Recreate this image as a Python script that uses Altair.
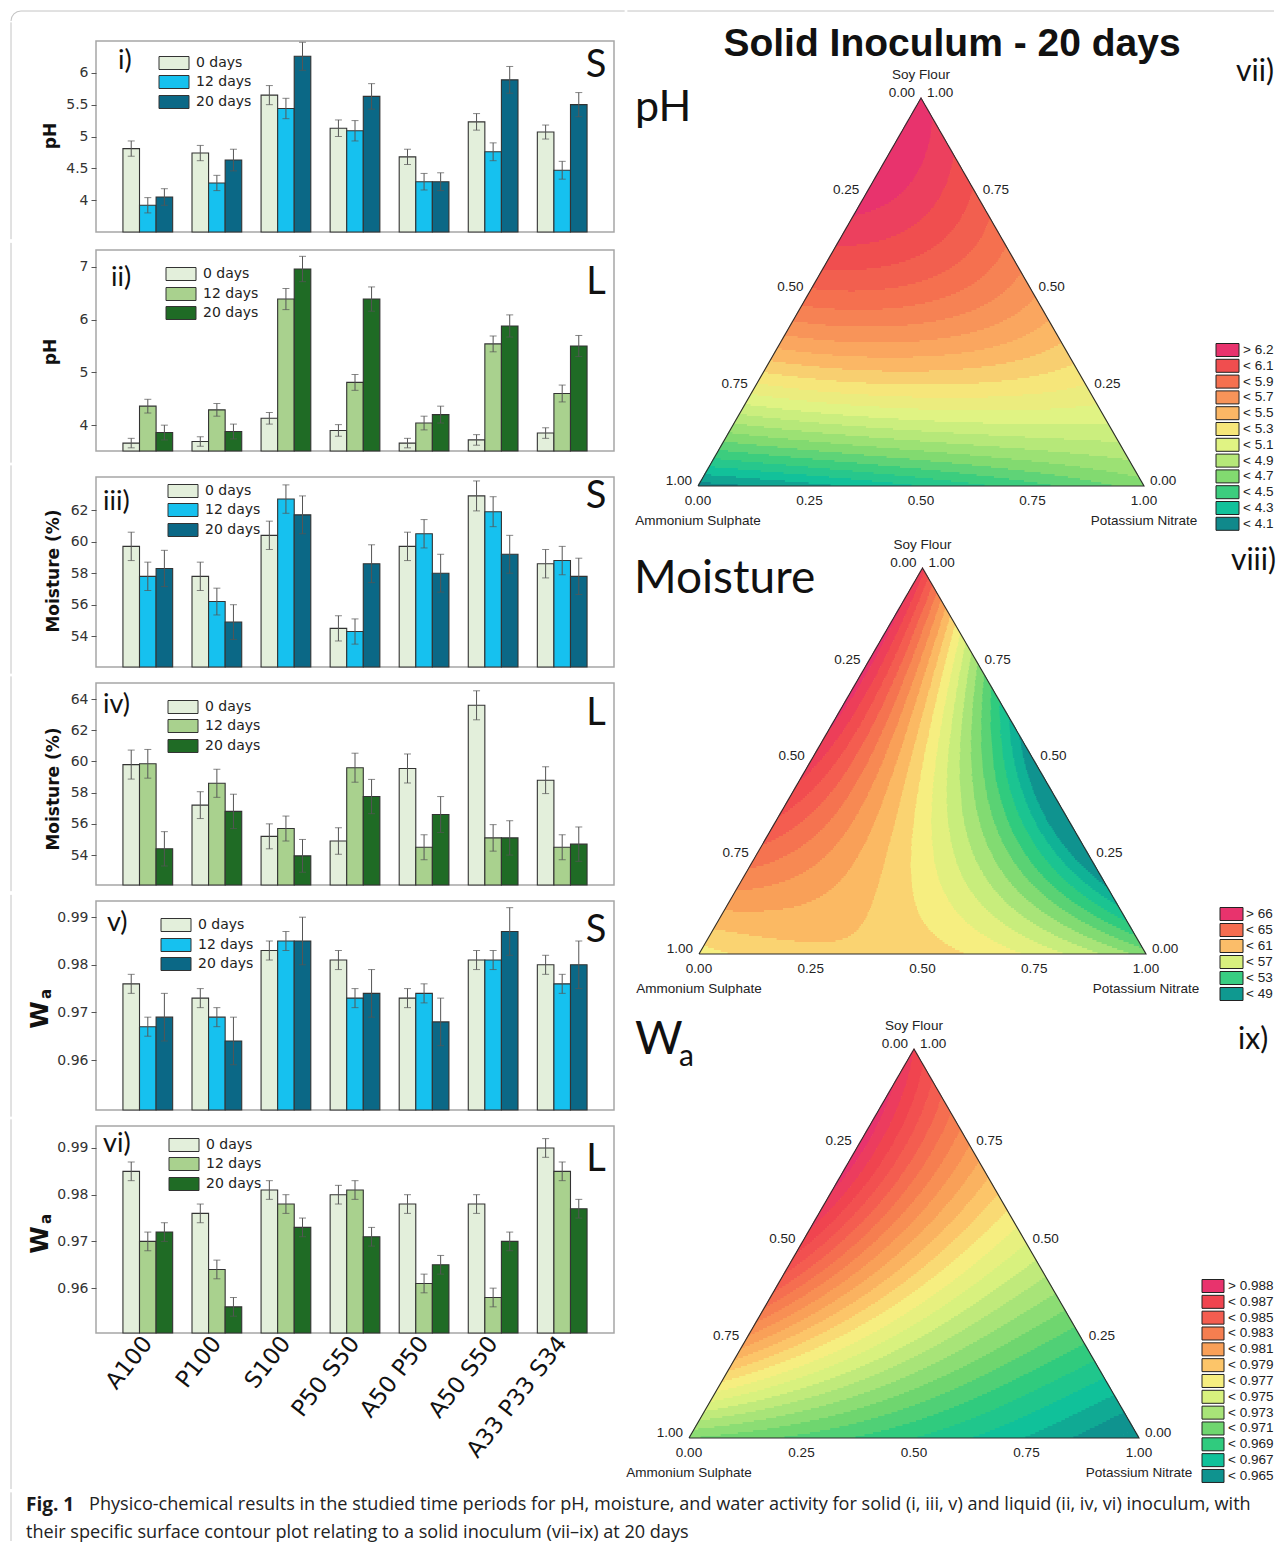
import numpy as np
import pandas as pd
import altair as alt

alt.data_transformers.disable_max_rows()

# ---------------------------------------------------------------- data
FORMS = ["A100", "P100", "S100", "P50 S50", "A50 P50", "A50 S50", "A33 P33 S34"]
DAYS = ["0 days", "12 days", "20 days"]

# rows: 0, 12, 20 days ; columns: FORMS
PH_S = [[4.81, 4.74, 5.65, 5.13, 4.68, 5.23, 5.07],
        [3.92, 4.27, 5.44, 5.09, 4.29, 4.76, 4.47],
        [4.05, 4.63, 6.26, 5.63, 4.29, 5.89, 5.50]]
PH_S_ERR = [[0.12, 0.12, 0.15, 0.13, 0.12, 0.13, 0.11],
            [0.12, 0.12, 0.16, 0.16, 0.13, 0.14, 0.14],
            [0.13, 0.17, 0.22, 0.20, 0.14, 0.21, 0.19]]

PH_L = [[3.66, 3.69, 4.13, 3.90, 3.66, 3.72, 3.85],
        [4.36, 4.29, 6.39, 4.81, 4.04, 5.54, 4.60],
        [3.86, 3.88, 6.96, 6.39, 4.20, 5.88, 5.50]]
PH_L_ERR = [[0.09, 0.09, 0.11, 0.11, 0.09, 0.10, 0.10],
            [0.13, 0.12, 0.20, 0.15, 0.13, 0.15, 0.16],
            [0.14, 0.14, 0.24, 0.23, 0.16, 0.21, 0.20]]

MO_S = [[59.7, 57.8, 60.4, 54.5, 59.7, 62.9, 58.6],
        [57.8, 56.2, 62.7, 54.3, 60.5, 61.9, 58.8],
        [58.3, 54.9, 61.7, 58.6, 58.0, 59.2, 57.8]]
MO_S_ERR = [[0.90, 0.90, 0.90, 0.80, 0.90, 0.95, 0.90],
            [0.90, 0.85, 0.90, 0.80, 0.90, 0.95, 0.90],
            [1.15, 1.10, 1.20, 1.20, 1.20, 1.20, 1.15]]

MO_L = [[59.8, 57.2, 55.2, 54.9, 59.55, 63.6, 58.8],
        [59.85, 58.6, 55.7, 59.6, 54.5, 55.1, 54.5],
        [54.4, 56.8, 53.95, 57.75, 56.6, 55.1, 54.7]]
MO_L_ERR = [[0.93, 0.86, 0.80, 0.85, 0.93, 0.93, 0.86],
            [0.92, 0.90, 0.80, 0.93, 0.80, 0.85, 0.80],
            [1.10, 1.10, 1.05, 1.10, 1.15, 1.10, 1.10]]

WA_S = [[0.976, 0.973, 0.983, 0.981, 0.973, 0.981, 0.980],
        [0.967, 0.969, 0.985, 0.973, 0.974, 0.981, 0.976],
        [0.969, 0.964, 0.985, 0.974, 0.968, 0.987, 0.980]]
WA_S_ERR = [[0.002, 0.002, 0.002, 0.002, 0.002, 0.002, 0.002],
            [0.002, 0.002, 0.002, 0.002, 0.002, 0.002, 0.002],
            [0.005, 0.005, 0.005, 0.005, 0.005, 0.005, 0.005]]

WA_L = [[0.985, 0.976, 0.981, 0.980, 0.978, 0.978, 0.990],
        [0.970, 0.964, 0.978, 0.981, 0.961, 0.958, 0.985],
        [0.972, 0.956, 0.973, 0.971, 0.965, 0.970, 0.977]]
WA_L_ERR = [[0.002, 0.002, 0.002, 0.002, 0.002, 0.002, 0.002],
            [0.002, 0.002, 0.002, 0.002, 0.002, 0.002, 0.002],
            [0.002, 0.002, 0.002, 0.002, 0.002, 0.002, 0.002]]

# ternary design-point values
# order: A100, P100, S100, A50P50, A50S50, P50S50, A33P33S34
PH_MIX = [4.05, 4.65, 6.25, 4.30, 5.88, 5.62, 5.50]
MO_MIX = [57.5, 53.5, 65.5, 58.5, 65.5, 48.0, 57.5]
WA_MIX = [0.971, 0.9635, 0.987, 0.968, 0.9865, 0.975, 0.976]

PH_LEG = ["> 6.2", "< 6.1", "< 5.9", "< 5.7", "< 5.5", "< 5.3", "< 5.1", "< 4.9", "< 4.7", "< 4.5", "< 4.3", "< 4.1"]
PH_LEG_C = ["#e8336d", "#f04e4f", "#f5704f", "#f89459", "#fbb765", "#f6e67a",
            "#e0f383", "#b6e879", "#82da70", "#3ccd7e", "#12c19a", "#10898b"]
PH_ANCH = [6.25, 6.05, 5.85, 5.65, 5.45, 5.25, 5.05, 4.85, 4.65, 4.45, 4.25, 4.05]

MO_LEG = ["> 66", "< 65", "< 61", "< 57", "< 53", "< 49"]
MO_LEG_C = ["#e8336d", "#f46d50", "#fbbd69", "#d8f07e", "#38cd82", "#0f9990"]

WA_LEG = ["> 0.988", "< 0.987", "< 0.985", "< 0.983", "< 0.981", "< 0.979", "< 0.977",
          "< 0.975", "< 0.973", "< 0.971", "< 0.969", "< 0.967", "< 0.965"]
WA_LEG_C = ["#e8336d", "#f0444f", "#f45d50", "#f67e50", "#f9a058", "#fcc569", "#f6ee80",
            "#d8f17e", "#a8e478", "#6fd66f", "#30cb7e", "#10c19a", "#0f938f"]
WA_ANCH = [0.9885, 0.9865, 0.9845, 0.9825, 0.9805, 0.9785, 0.9765,
           0.9745, 0.9725, 0.9705, 0.9685, 0.9665, 0.9645]
MO_ANCH = [66.5, 65.0, 63.5, 62.0, 60.5, 59.0, 57.5, 56.0, 54.5, 53.0, 51.5, 50.0, 48.5]

PH_LEVELS = [round(v, 2) for v in np.arange(4.1, 6.25, 0.1)]
MO_LEVELS = [float(v) for v in np.arange(49, 67, 1.0)]
WA_LEVELS = [round(v, 3) for v in np.arange(0.964, 0.98851, 0.001)]

TICKS = [0.0, 0.25, 0.5, 0.75, 1.0]

SOLID_C = ["#e3efdb", "#16c1ef", "#0b6886"]
LIQUID_C = ["#e3efdb", "#a9d18e", "#1f6b25"]

CAP1 = ("Physico-chemical results in the studied time periods for pH, moisture, and water activity "
        "for solid (i, iii, v) and liquid (ii, iv, vi) inoculum, with")
CAP2 = "their specific surface contour plot relating to a solid inoculum (vii\u2013ix) at 20 days"

# ---------------------------------------------------------------- style
AXF = "DejaVu Sans"
LAB = "Lato"
TF = "Liberation Sans"
BORDER = "#c4c4c4"
DUMMY = pd.DataFrame({"d": [0]})
SEGPAD = 1.35   # extra extent that the layout adds round a 1 px rule


def txt(text, x, y, size, font=LAB, weight="normal", align="left", baseline="middle",
        angle=0, color="#111"):
    kw = dict(text=text, fontSize=size, font=font, fontWeight=weight, align=align,
              baseline=baseline, color=color)
    if angle:
        kw["angle"] = angle
    return alt.Chart(DUMMY).mark_text(**kw).encode(x=alt.value(x), y=alt.value(y))


def hrule(x1, x2, y):
    return alt.Chart(DUMMY).mark_rule(color=BORDER, strokeWidth=1).encode(
        x=alt.value(x1), x2=alt.value(x2), y=alt.value(y))


def vrule(x, y1, y2):
    return alt.Chart(DUMMY).mark_rule(color=BORDER, strokeWidth=1).encode(
        x=alt.value(x), y=alt.value(y1), y2=alt.value(y2))


def ghost(w, h):
    return alt.Chart(DUMMY).mark_rect(opacity=0).encode(
        x=alt.value(0), x2=alt.value(w), y=alt.value(0), y2=alt.value(h))


# ---------------------------------------------------------------- bar panels
def bar_panel(vals, errs, colors, domain, ticks, h, numeral, num_xy, letter, let_xy,
              leg_y, sw_x, ytitle, yt_xy, seg, show_x=False, corner=False):
    recs = []
    for di, d in enumerate(DAYS):
        for fi, f in enumerate(FORMS):
            v = vals[di][fi]
            e = errs[di][fi]
            recs.append({"form": f, "day": d, "v": v, "lo": v - e, "hi": v + e, "b": domain[0]})
    df = pd.DataFrame(recs)
    if show_x:
        xaxis = alt.Axis(title=None, labelAngle=-52, labelFont=AXF, labelFontSize=23,
                         labelColor="#111", ticks=False, domain=False, labelPadding=6,
                         labelAlign="right", labelBaseline="middle")
    else:
        xaxis = None
    X = alt.X("form:N", sort=FORMS,
              scale=alt.Scale(domain=FORMS, paddingInner=0.28, paddingOuter=0.39), axis=xaxis)
    XO = alt.XOffset("day:N", sort=DAYS, scale=alt.Scale(domain=DAYS, paddingInner=0, paddingOuter=0))
    ysc = alt.Scale(domain=domain, zero=False, nice=False, clamp=True)
    yax = alt.Axis(values=ticks, format="~g", title=None, domain=False, grid=False,
                   labelFont=AXF, labelFontSize=14, labelColor="#333", tickColor="#555",
                   tickSize=5, labelPadding=3, labelOverlap=False)
    base = alt.Chart(df)
    bars = base.mark_bar(stroke="#333", strokeWidth=1.1).encode(
        x=X, xOffset=XO, y=alt.Y("v:Q", scale=ysc, axis=yax), y2="b:Q",
        color=alt.Color("day:N", sort=DAYS, scale=alt.Scale(domain=DAYS, range=colors), legend=None))
    err = base.mark_rule(color="#555", strokeWidth=1).encode(
        x=X, xOffset=XO, y=alt.Y("lo:Q", scale=ysc), y2="hi:Q")
    cap_hi = base.mark_tick(color="#555", size=7, thickness=1).encode(
        x=X, xOffset=XO, y=alt.Y("hi:Q", scale=ysc))
    cap_lo = base.mark_tick(color="#555", size=7, thickness=1).encode(
        x=X, xOffset=XO, y=alt.Y("lo:Q", scale=ysc))
    layers = [bars, err, cap_hi, cap_lo]
    for k in range(3):
        layers.append(alt.Chart(DUMMY).mark_rect(fill=colors[k], stroke="#333", strokeWidth=1).encode(
            x=alt.value(sw_x), x2=alt.value(sw_x + 30),
            y=alt.value(leg_y[k] - 6.5), y2=alt.value(leg_y[k] + 6.5)))
        layers.append(txt(DAYS[k], sw_x + 37, leg_y[k], 14, font=AXF, color="#222"))
    layers.append(txt(numeral, num_xy[0], num_xy[1], 27))
    layers.append(txt(letter, let_xy[0], let_xy[1], 38, align="center"))
    if ytitle == "W":
        layers.append(txt("W", yt_xy[0], yt_xy[1], 25, font=AXF, weight="bold",
                          align="center", angle=270))
        layers.append(txt("a", yt_xy[0] + 6, yt_xy[1] - 21, 15, font=AXF, weight="bold",
                          align="center", angle=270))
    else:
        layers.append(txt(ytitle, yt_xy[0], yt_xy[1], 17, font=AXF, weight="bold",
                          align="center", angle=270))
    layers.append(vrule(-85, seg[0] + SEGPAD, seg[1] - SEGPAD))
    if corner:
        layers.append(hrule(-75, 530 - SEGPAD, -30))
        layers.append(alt.Chart(DUMMY).mark_arc(color=BORDER, innerRadius=9.5, outerRadius=10.5,
                                                theta=4.712, theta2=6.283).encode(
            x=alt.value(-75), y=alt.value(-20)))
    return alt.layer(*layers).properties(
        width=518, height=h, view=alt.ViewBackground(stroke="#a6a6a6", strokeWidth=1.5))


p1 = bar_panel(PH_S, PH_S_ERR, SOLID_C, [3.5, 6.5], [4, 4.5, 5, 5.5, 6], 191,
               "i)", (22, 20), "S", (500, 25), [22, 41, 61], 63, "pH", (-45, 95),
               (-20, 191 + 8.5), corner=True)
p2 = bar_panel(PH_L, PH_L_ERR, LIQUID_C, [3.51, 7.32], [4, 4.5, 5, 5.5, 6, 6.5, 7], 201,
               "ii)", (15, 28), "L", (500, 33), [24, 44, 63], 70, "pH", (-45, 102),
               (-8.5, 201 + 13))
p3 = bar_panel(MO_S, MO_S_ERR, SOLID_C, [52.05, 64.1], [54, 56, 58, 60, 62], 190,
               "iii)", (7, 25), "S", (500, 20), [14, 33, 53], 72, "Moisture (%)", (-42, 94),
               (-13, 190 + 8))
p4 = bar_panel(MO_L, MO_L_ERR, LIQUID_C, [52.08, 65.03], [54, 56, 58, 60, 62, 64], 202,
               "iv)", (7, 22), "L", (500, 31), [24, 43, 63], 72, "Moisture (%)", (-42, 106),
               (-8, 202 + 7.5))
p5 = bar_panel(WA_S, WA_S_ERR, SOLID_C, [0.9495, 0.9934], [0.96, 0.97, 0.98, 0.99], 209,
               "v)", (11, 22), "S", (500, 30), [24, 44, 63], 65, "W", (-56, 114),
               (-7.5, 209 + 8))
p6 = bar_panel(WA_L, WA_L_ERR, LIQUID_C, [0.9504, 0.9947], [0.96, 0.97, 0.98, 0.99], 207,
               "vi)", (7, 18), "L", (500, 34), [19, 38, 58], 73, "W", (-56, 114),
               (-8, 363 + SEGPAD), show_x=True)

# ---------------------------------------------------------------- ternary column (one chart)
PXU = 446.0          # pixels per plotting unit
RX0, RY0 = 625, 40   # page position of the column's plot origin
RW, RH = 650, 1446   # keep the whole page within the 1271 px content width


def U(ax, ay):
    """page pixel -> plotting units of the ternary column"""
    return (ax - RX0) / PXU, (RY0 + RH - ay) / PXU


def scheffe(mix):
    yA, yP, yS, yAP, yAS, yPS, yC = mix
    bAP = 4 * (yAP - (yA + yP) / 2)
    bAS = 4 * (yAS - (yA + yS) / 2)
    bPS = 4 * (yPS - (yP + yS) / 2)
    bAPS = 27 * (yC - (yA + yP + yS) / 3 - (bAP + bAS + bPS) / 9)

    def f(A, P, S):
        return yA * A + yP * P + yS * S + bAP * A * P + bAS * A * S + bPS * P * S + bAPS * A * P * S
    return f


def hex2rgb(hx):
    return np.array([int(hx[i:i + 2], 16) for i in (1, 3, 5)], float)


def band_colors(levels, anch_v, anch_c):
    step = levels[1] - levels[0]
    mids = [levels[0] - step / 2] + [(a + b) / 2 for a, b in zip(levels[:-1], levels[1:])] + [levels[-1] + step / 2]
    av = np.array(anch_v[::-1])
    rgb = np.array([hex2rgb(c) for c in anch_c[::-1]])
    cols = []
    for m in mids:
        c = [np.interp(m, av, rgb[:, j]) for j in range(3)]
        cols.append("#%02x%02x%02x" % tuple(int(round(x)) for x in c))
    return mids, cols


XS = alt.Scale(domain=[0, RW / PXU], nice=False, zero=False)
YS = alt.Scale(domain=[0, RH / PXU], nice=False, zero=False)
ENC = dict(x=alt.X("x:Q", scale=XS, axis=None), y=alt.Y("y:Q", scale=YS, axis=None))


def tern_layers(g, mix, levels, anch_v, anch_c, leg_lab, leg_col, leg):
    lx, ly, w, hg = g["lx"], g["ly"], g["w"], g["h"]

    def pt(A, P, S):
        return U(lx + w * (P + S / 2.0), ly - hg * S)

    f = scheffe(mix)
    mids, cols = band_colors(levels, anch_v, anch_c)
    recs = []
    step = 2.0
    nrow = int(np.ceil(hg / step))
    for i in range(nrow):
        yb = ly - i * step
        yt = max(ly - hg, yb - step)
        ym = (yb + yt) / 2
        S = (ly - ym) / hg
        xl = lx + w * S / 2
        xr = lx + w * (1 - S / 2)
        n = max(1, int(round(xr - xl)))
        wd = (xr - xl) / n
        xs = xl + (np.arange(n) + 0.5) * wd
        P = np.clip((xs - lx) / w - S / 2, 0, 1)
        Sv = np.full(n, S)
        A = np.clip(1 - P - Sv, 0, 1)
        cls = np.digitize(f(A, P, Sv), levels)
        cut = np.flatnonzero(np.diff(cls)) + 1
        for s, e in zip(np.r_[0, cut], np.r_[cut, n]):
            x0 = xl + s * wd
            x1 = xl + e * wd + (0.6 if e < n else 0)
            (ux0, uy0), (ux1, uy1) = U(x0, yb), U(x1, yt - 0.6)
            recs.append((ux0, ux1, uy0, uy1, mids[cls[s]]))
    hdf = pd.DataFrame(recs, columns=["x0", "x1", "y0", "y1", "v"])
    heat = alt.Chart(hdf).mark_rect(strokeWidth=0).encode(
        x=alt.X("x0:Q", scale=XS, axis=None), x2="x1:Q",
        y=alt.Y("y0:Q", scale=YS, axis=None), y2="y1:Q",
        color=alt.Color("v:Q", scale=alt.Scale(type="threshold", domain=levels, range=cols), legend=None))

    verts = [pt(1, 0, 0), pt(0, 1, 0), pt(0, 0, 1), pt(1, 0, 0)]
    odf = pd.DataFrame({"x": [v[0] for v in verts], "y": [v[1] for v in verts], "o": range(4)})
    outline = alt.Chart(odf).mark_line(color="#2a2a2a", strokeWidth=1.1).encode(order="o:Q", **ENC)

    def tdf(pts):
        return pd.DataFrame([{"x": p[0][0], "y": p[0][1], "t": p[1]} for p in pts])

    left = tdf([(pt(a, 0, 1 - a), f"{a:.2f}") for a in TICKS])
    right = tdf([(pt(0, 1 - s, s), f"{s:.2f}") for s in TICKS])
    bottom = tdf([(pt(1 - p, p, 0), f"{p:.2f}") for p in TICKS])
    tk = dict(font=TF, fontSize=13.5, color="#222", baseline="middle")
    l_lab = alt.Chart(left).mark_text(align="right", dx=-6, dy=-5, **tk).encode(text="t:N", **ENC)
    r_lab = alt.Chart(right).mark_text(align="left", dx=6, dy=-5, **tk).encode(text="t:N", **ENC)
    b_lab = alt.Chart(bottom).mark_text(align="center", dy=15, **tk).encode(text="t:N", **ENC)
    n_top = alt.Chart(tdf([(pt(0, 0, 1), "Soy Flour")])).mark_text(
        align="center", dy=-23, **tk).encode(text="t:N", **ENC)
    n_bot = alt.Chart(tdf([(pt(1, 0, 0), "Ammonium Sulphate"), (pt(0, 1, 0), "Potassium Nitrate")])).mark_text(
        align="center", dy=35, **tk).encode(text="t:N", **ENC)

    rows = []
    for i, (lab, c) in enumerate(zip(leg_lab, leg_col)):
        yc = leg["y0"] + i * leg["step"]
        xa, ya = U(leg["x0"], yc + 6.5)
        xb, yb2 = U(leg["x0"] + leg["w"], yc - 6.5)
        xt, ycu = U(leg["xt"], yc)
        rows.append(dict(lab=lab, c=c, xa=xa, xb=xb, ya=ya, yb=yb2, xt=xt, yc=ycu))
    ldf = pd.DataFrame(rows)
    sw = alt.Chart(ldf).mark_rect(stroke="#222", strokeWidth=1).encode(
        x=alt.X("xa:Q", scale=XS, axis=None), x2="xb:Q",
        y=alt.Y("ya:Q", scale=YS, axis=None), y2="yb:Q",
        fill=alt.Fill("c:N", scale=None))
    lt = alt.Chart(ldf).mark_text(font=TF, fontSize=13.5, align="left", baseline="middle", color="#222").encode(
        x=alt.X("xt:Q", scale=XS, axis=None), y=alt.Y("yc:Q", scale=YS, axis=None), text="lab:N")
    return [heat, outline, l_lab, r_lab, b_lab, n_top, n_bot, sw, lt]


G_PH = dict(lx=697, ly=485, w=446, h=388)
G_MO = dict(lx=698, ly=953, w=447, h=386)
G_WA = dict(lx=688, ly=1437, w=450, h=389)

tern_all = [ghost(RW, RH)]
tern_all += tern_layers(G_PH, PH_MIX, PH_LEVELS, PH_ANCH, PH_LEG_C, PH_LEG, PH_LEG_C,
                        dict(x0=1215, w=23, xt=1242, y0=349, step=15.8))
tern_all += tern_layers(G_MO, MO_MIX, MO_LEVELS, MO_ANCH, WA_LEG_C, MO_LEG, MO_LEG_C,
                        dict(x0=1219, w=23, xt=1245, y0=913, step=16.0))
tern_all += tern_layers(G_WA, WA_MIX, WA_LEVELS, WA_ANCH, WA_LEG_C, WA_LEG, WA_LEG_C,
                        dict(x0=1201, w=22, xt=1227, y0=1285, step=15.83))
tern_all += [
    txt("Solid Inoculum - 20 days", 326, 15, 39, font="Liberation Sans", weight="bold",
        align="center", baseline="alphabetic"),
    txt("pH", 9, 80, 43, baseline="alphabetic"),
    txt("vii)", 610, 40, 30, baseline="alphabetic"),
    txt("Moisture", 8, 552, 46, baseline="alphabetic"),
    txt("viii)", 650, 529, 30, align="right", baseline="alphabetic"),
    txt("W", 9, 1013, 46, baseline="alphabetic"),
    txt("a", 53, 1025, 30, baseline="alphabetic"),
    txt("ix)", 612, 1008, 30, baseline="alphabetic"),
    hrule(SEGPAD, 648, -30),
]
right_col = alt.layer(*tern_all).resolve_scale(color="independent").properties(width=RW, height=RH)

# ---------------------------------------------------------------- caption
cap = alt.layer(
    ghost(1150, 46),
    txt("Fig. 1", -70, 14, 19, font="Open Sans", weight="bold", color="#1a1a1a"),
    txt(CAP1, -7, 14, 18.1, font="Open Sans", color="#222"),
    txt(CAP2, -70, 42, 18.1, font="Open Sans", color="#222"),
    vrule(-85, SEGPAD, 50),
).properties(width=1150, height=46)


def res(c):
    return c.resolve_scale(color="independent", fill="independent")


left_col = res(alt.vconcat(p1, p2, p3, p4, p5, p6, spacing=0))
main = res(alt.hconcat(left_col, right_col, spacing=0))
chart = res(alt.vconcat(main, cap, spacing=0)).properties(
    padding={"left": 1, "top": 1, "right": 0, "bottom": 0},
    background="white",
).configure_view(strokeWidth=0)

chart.save("out.html", embed_options={"renderer": "svg", "actions": False})
